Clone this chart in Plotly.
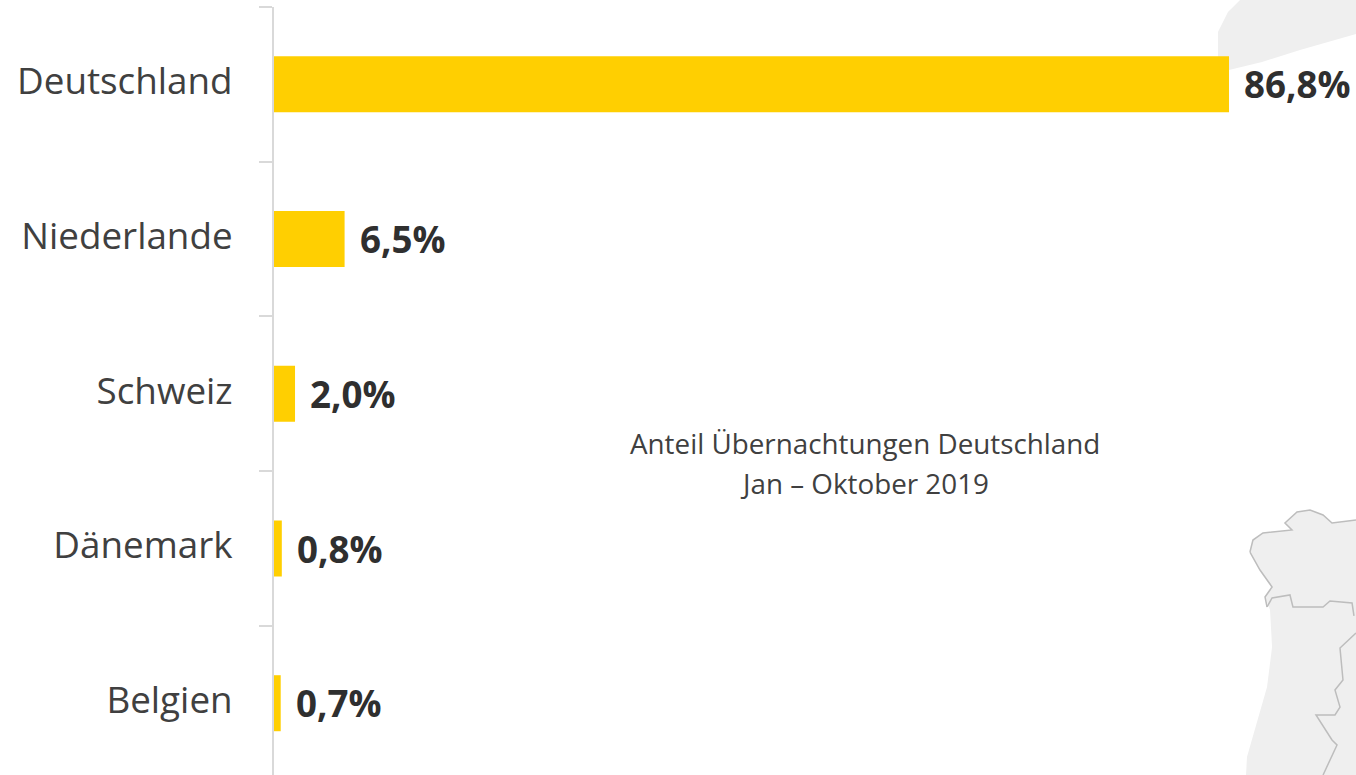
import plotly.graph_objects as go

categories = ["Deutschland", "Niederlande", "Schweiz", "Dänemark", "Belgien"]
values = [86.8, 6.5, 2.0, 0.8, 0.7]
value_labels = ["86,8%", "6,5%", "2,0%", "0,8%", "0,7%"]
note_lines = ["Anteil Übernachtungen Deutschland", "Jan – Oktober 2019"]

W, H = 1356, 775
L, T = 273, 7
PX_PER_UNIT = 11.014
BAND = 154.7
FONT = "Open Sans"


def path(points, close=True):
    d = "M" + " L".join(f"{x/W:.4f},{1-y/H:.4f}" for x, y in points)
    return d + (" Z" if close else "")


north = [(1240, 0), (1228, 12), (1218, 32), (1218, 58), (1229, 58), (1229, 70), (1262, 62),
         (1300, 50), (1356, 34), (1356, 0)]
west = [(1250, 552), (1253, 540), (1263, 533), (1292, 530), (1285, 523), (1297, 512), (1310, 510),
        (1323, 515), (1332, 523), (1356, 520), (1356, 775), (1246, 775), (1247, 757), (1267, 687),
        (1272, 647), (1270, 610), (1265, 597), (1272, 587), (1260, 570)]
coast_north = [(1250, 552), (1253, 540), (1263, 533), (1292, 530), (1285, 523), (1297, 512),
               (1310, 510), (1323, 515), (1332, 523), (1356, 520)]
coast_west = [(1250, 552), (1260, 570), (1272, 587), (1265, 597), (1267, 607)]
border_a = [(1267, 607), (1272, 598), (1290, 595), (1293, 607), (1323, 607), (1330, 601),
            (1352, 603), (1354, 616)]
border_b = [(1356, 633), (1340, 648), (1343, 680), (1335, 690), (1340, 707), (1335, 715),
            (1316, 715), (1332, 740), (1337, 745), (1323, 775)]

shapes = []
for poly in (north, west):
    shapes.append(dict(type="path", xref="paper", yref="paper", path=path(poly), layer="below",
                       fillcolor="#EFEFEF", line=dict(width=0)))
for line in (coast_north, coast_west, border_a, border_b):
    shapes.append(dict(type="path", xref="paper", yref="paper", path=path(line, False), layer="below",
                       line=dict(color="#BDBDBD", width=1.5)))

fig = go.Figure(go.Bar(y=categories, x=values, orientation="h", marker=dict(color="#FFCF01", line_width=0)))

annotations = [dict(x=v, y=c, xref="x", yref="y", text=f"<b>{t}</b>", showarrow=False, xanchor="left",
                    xshift=13, yshift=0, font=dict(family=FONT, size=36.7, color="#2F2F2F"))
               for c, v, t in zip(categories, values, value_labels)]
for line, y_px in zip(note_lines, (443, 483)):
    annotations.append(dict(x=864.5 / W, y=1 - y_px / H, xref="paper", yref="paper", text=line, showarrow=False,
                            align="center", font=dict(family=FONT, size=27.8, color="#404040")))

fig.update_layout(
    width=W, height=H, autosize=False,
    margin=dict(l=0, r=0, t=0, b=0, pad=0),
    paper_bgcolor="white", plot_bgcolor="rgba(0,0,0,0)",
    showlegend=False, bargap=1 - 56 / BAND,
    shapes=shapes, annotations=annotations,
    xaxis=dict(domain=[L / W, 1], range=[0, (W - L) / PX_PER_UNIT], visible=False),
    yaxis=dict(domain=[0, 1 - T / H], anchor="free", position=L / W, type="category",
               categoryorder="array", categoryarray=categories,
               range=[4.464, -0.5], tickson="boundaries", ticks="outside", ticklen=13,
               tickcolor="#D9D9D9", tickwidth=2, showline=True, linecolor="#D9D9D9", linewidth=2,
               showgrid=False, zeroline=False, ticklabelstandoff=32, ticklabelshift=3,
               tickfont=dict(family=FONT, size=36.8, color="#404040")),
)
fig.write_html("out.html", config=dict(displayModeBar=False),
               post_script="document.body.style.margin='0';document.body.style.overflow='hidden';")
